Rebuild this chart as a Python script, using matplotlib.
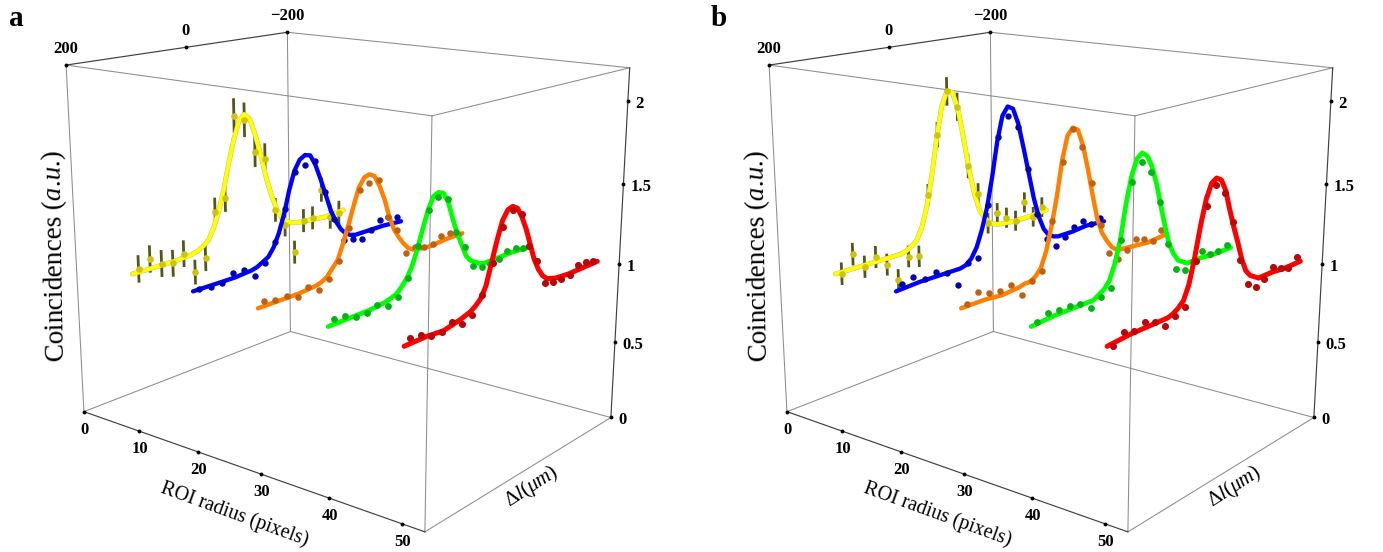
import matplotlib
matplotlib.use("Agg")
import matplotlib.pyplot as plt
import matplotlib.patheffects as pe
from mpl_toolkits.mplot3d import proj3d

plt.rcParams["font.family"] = ["Liberation Serif", "DejaVu Serif"]
plt.rcParams["mathtext.fontset"] = "custom"
plt.rcParams["mathtext.rm"] = "Liberation Serif"
plt.rcParams["mathtext.it"] = "Liberation Serif:italic"
plt.rcParams["mathtext.bf"] = "Liberation Serif:bold"

# ROI radius of each curve, delta l of the measured points and of the fit samples
radii = [10, 20, 30, 40, 50]
dl_points = [190, 171, 152, 133, 114, 95, 76, 57, 38, 19, 0, -19, -38, -57, -76, -95, -114, -133, -152, -171, -190]
dl_fit = [200, 160, 130, 100, 90, 80, 70, 60, 50, 40, 30, 20, 10, 0, -10, -20, -30, -40, -50, -60, -70, -80, -90, -100, -130, -160, -200]

# panel a, fits
a_yellow_fit = [1.00, 1.00, 1.00, 1.01, 1.02, 1.04, 1.07, 1.14, 1.24, 1.37, 1.53, 1.67, 1.78, 1.815, 1.78, 1.67, 1.53, 1.37, 1.24, 1.14, 1.07, 1.04, 1.02, 1.01, 1.00, 0.99, 1.00]
a_blue_fit = [0.99, 0.99, 0.99, 1.00, 1.01, 1.03, 1.05, 1.10, 1.18, 1.29, 1.43, 1.54, 1.60, 1.62, 1.61, 1.54, 1.44, 1.33, 1.22, 1.14, 1.08, 1.04, 1.02, 1.01, 1.01, 1.01, 1.00]
a_orange_fit = [0.99, 0.99, 0.99, 1.00, 1.01, 1.03, 1.07, 1.11, 1.20, 1.30, 1.41, 1.51, 1.56, 1.57, 1.55, 1.48, 1.39, 1.27, 1.18, 1.12, 1.07, 1.03, 1.01, 1.00, 0.99, 1.00, 1.00]
a_green_fit = [0.99, 0.99, 0.99, 1.00, 1.01, 1.02, 1.05, 1.09, 1.15, 1.24, 1.35, 1.45, 1.52, 1.535, 1.52, 1.46, 1.35, 1.25, 1.17, 1.09, 1.05, 1.03, 1.01, 1.00, 1.00, 1.00, 0.99]
a_red_fit = [0.99, 0.99, 0.98, 1.00, 1.01, 1.02, 1.04, 1.07, 1.13, 1.25, 1.37, 1.47, 1.52, 1.53, 1.51, 1.45, 1.37, 1.27, 1.17, 1.10, 1.05, 1.02, 1.01, 1.00, 0.99, 0.99, 0.99]

# panel a, measured points
a_yellow_pts = [1.02, 1.06, 1.01, 0.99, 1.03, 0.89, 0.96, 1.24, 1.31, 1.82, 1.78, 1.56, 1.50, 1.14, 1.02, 0.81, 1.01, 1.01, 1.19, 0.98, 0.99]
a_yellow_err = [0.085, 0.085, 0.085, 0.085, 0.085, 0.08, 0.085, 0.09, 0.09, 0.11, 0.11, 0.10, 0.10, 0.08, 0.08, 0.08, 0.08, 0.08, 0.085, 0.085, 0.085]
a_blue_pts = [0.99, 0.98, 0.98, 1.02, 1.02, 0.96, 1.02, 1.13, 1.32, 1.53, 1.56, 1.57, 1.35, 1.16, 1.00, 0.99, 0.97, 1.01, 1.06, 1.06, 1.04]
a_orange_pts = [1.02, 1.00, 1.00, 0.97, 1.01, 0.97, 1.01, 1.10, 1.28, 1.49, 1.52, 1.52, 1.27, 1.17, 1.00, 1.02, 1.00, 1.00, 1.03, 1.03, 1.00]
a_green_pts = [1.02, 1.01, 0.98, 0.98, 1.00, 0.97, 1.00, 1.09, 1.26, 1.45, 1.51, 1.48, 1.26, 1.15, 1.01, 0.98, 0.98, 0.99, 1.02, 1.02, 1.00]
a_red_pts = [1.02, 1.01, 0.98, 0.98, 1.01, 0.97, 1.00, 1.09, 1.25, 1.43, 1.51, 1.47, 1.26, 1.15, 1.00, 0.98, 0.98, 0.98, 1.02, 1.02, 1.00]

# panel b, fits
b_yellow_fit = [1.00, 1.00, 1.00, 1.00, 1.00, 1.01, 1.03, 1.06, 1.14, 1.27, 1.46, 1.68, 1.87, 1.96, 1.95, 1.84, 1.64, 1.42, 1.25, 1.13, 1.07, 1.03, 1.01, 1.00, 0.99, 0.99, 1.00]
b_blue_fit = [0.99, 1.00, 1.00, 1.00, 1.00, 1.01, 1.04, 1.10, 1.20, 1.33, 1.51, 1.72, 1.87, 1.92, 1.90, 1.80, 1.64, 1.47, 1.30, 1.17, 1.08, 1.03, 1.01, 1.00, 1.00, 1.01, 1.00]
b_orange_fit = [0.99, 0.99, 0.98, 0.99, 1.00, 1.00, 1.02, 1.06, 1.15, 1.29, 1.46, 1.67, 1.81, 1.85, 1.83, 1.73, 1.58, 1.41, 1.25, 1.15, 1.09, 1.04, 1.01, 1.00, 0.99, 0.98, 0.99]
b_green_fit = [0.99, 1.00, 1.00, 1.00, 1.00, 1.02, 1.04, 1.08, 1.17, 1.30, 1.50, 1.65, 1.74, 1.765, 1.74, 1.67, 1.56, 1.42, 1.28, 1.16, 1.09, 1.04, 1.02, 1.00, 1.00, 0.99, 0.99]
b_red_fit = [0.99, 1.00, 1.00, 1.00, 1.00, 1.01, 1.03, 1.06, 1.14, 1.28, 1.45, 1.59, 1.67, 1.69, 1.67, 1.60, 1.48, 1.37, 1.27, 1.16, 1.08, 1.04, 1.02, 1.00, 1.00, 0.99, 0.99]

# panel b, measured points
b_yellow_pts = [0.99, 1.09, 0.99, 1.03, 0.96, 0.84, 0.97, 0.95, 1.33, 1.70, 1.96, 1.85, 1.45, 1.25, 1.03, 1.08, 1.03, 0.99, 1.10, 0.98, 1.03]
b_yellow_err = [0.07, 0.07, 0.07, 0.07, 0.07, 0.07, 0.07, 0.07, 0.07, 0.08, 0.09, 0.09, 0.08, 0.07, 0.07, 0.07, 0.07, 0.07, 0.07, 0.07, 0.07]
b_blue_pts = [1.02, 1.04, 1.01, 1.03, 1.00, 0.90, 1.02, 1.03, 1.34, 1.75, 1.86, 1.78, 1.50, 1.19, 1.01, 0.94, 0.98, 1.03, 1.05, 1.01, 1.03]
b_orange_pts = [1.00, 1.05, 1.02, 1.01, 1.02, 0.94, 1.00, 1.04, 1.32, 1.66, 1.84, 1.72, 1.48, 1.20, 1.00, 0.94, 0.98, 1.03, 1.01, 0.98, 1.03]
b_green_pts = [1.00, 1.03, 1.02, 1.02, 1.01, 0.96, 1.00, 1.03, 1.29, 1.61, 1.71, 1.64, 1.44, 1.17, 0.99, 0.96, 0.99, 1.04, 1.00, 1.00, 1.02]
b_red_pts = [0.98, 1.03, 1.01, 1.03, 1.01, 0.96, 0.99, 1.02, 1.26, 1.55, 1.65, 1.59, 1.40, 1.16, 0.99, 0.95, 0.98, 1.03, 1.00, 0.98, 1.03]

# axis ticks
roi_ticks = [0, 10, 20, 30, 40, 50]
dl_ticks = [200, 0, -200]
dl_labels = ["200", "0", "\u2212200"]
z_ticks = [0, 0.5, 1, 1.5, 2]
z_labels = ["0", "0.5", "1", "1.5", "2"]

ROI_MAX = 52.98
DL_MAX = 200
Z_MAX = 2.194

line_colors = ["#ffff00", "#0000ff", "#ff8000", "#00ff00", "#ff0000"]
dot_colors = ["#cfc40c", "#0000b4", "#c06010", "#00b414", "#b80808"]
line_widths = [3.0, 3.1, 3.2, 3.4, 3.6]
dot_sizes = [4.8, 4.6, 4.7, 4.9, 5.1]

W, H = 1383, 552
PANEL_SHIFT = 703
AX_SIDE = 634.47


def draw_panel(x_left, fits, pts, errs, tag):
    ax = fig.add_axes([x_left / W, -20.15 / H, AX_SIDE / W, AX_SIDE / H], projection="3d", computed_zorder=False)
    ax.set_xlim(0, ROI_MAX, view_margin=0)
    ax.set_ylim(DL_MAX, -DL_MAX, view_margin=0)
    ax.set_zlim(0, Z_MAX, view_margin=0)
    ax.view_init(15.55, -51.41, -0.05)
    ax.set_proj_type("persp", focal_length=0.4197)
    ax.set_box_aspect((1.2047, 0.9095, 1.0))
    ax.set_axis_off()
    ax.patch.set_visible(False)

    # box edges, dark ones carry the ticks
    box = [((0, ROI_MAX), (-DL_MAX, -DL_MAX), (0, 0)), ((0, 0), (-DL_MAX, DL_MAX), (0, 0)),
           ((0, 0), (-DL_MAX, -DL_MAX), (0, Z_MAX)), ((0, 0), (DL_MAX, DL_MAX), (0, Z_MAX)),
           ((ROI_MAX, ROI_MAX), (DL_MAX, DL_MAX), (0, Z_MAX)), ((0, ROI_MAX), (DL_MAX, DL_MAX), (Z_MAX, Z_MAX)),
           ((ROI_MAX, ROI_MAX), (-DL_MAX, DL_MAX), (Z_MAX, Z_MAX)), ((0, ROI_MAX), (-DL_MAX, -DL_MAX), (Z_MAX, Z_MAX)),
           ((ROI_MAX, ROI_MAX), (-DL_MAX, DL_MAX), (0, 0))]
    for xs, ys, zs in box:
        ax.plot(xs, ys, zs, color="#8c8c8c", lw=0.75, zorder=1)
    dark = [((0, ROI_MAX), (DL_MAX, DL_MAX), (0, 0)), ((0, 0), (-DL_MAX, DL_MAX), (Z_MAX, Z_MAX)),
            ((ROI_MAX, ROI_MAX), (-DL_MAX, -DL_MAX), (0, Z_MAX))]
    for xs, ys, zs in dark:
        ax.plot(xs, ys, zs, color="#404040", lw=0.85, zorder=1.1)

    # curves, back to front
    for i, r in enumerate(radii):
        base = 10 + 2 * i
        if i == 0:
            for d, z, e in zip(dl_points, pts[i], errs):
                ax.plot([r, r], [d, d], [z - e, z + e], color="#55551a", lw=2.0, zorder=base - 0.5,
                        solid_capstyle="butt")
        line, = ax.plot([r] * len(dl_fit), dl_fit, fits[i], color=line_colors[i], lw=line_widths[i], zorder=base,
                        solid_capstyle="round", solid_joinstyle="round")
        if i == 0:
            line.set_path_effects([pe.withStroke(linewidth=line_widths[i] + 0.5, foreground="#b0b0a0")])
        ax.plot([r] * len(dl_points), dl_points, pts[i], ls="none", marker="o", ms=dot_sizes[i], mfc=dot_colors[i],
                mec="none", zorder=base + 0.5)

    # tick dots and labels
    M = ax.get_proj()

    def tick(x, y, z, text, dx, dy, ha):
        u, v, _ = proj3d.proj_transform(x, y, z, M)
        ax.plot([x], [y], [z], ls="none", marker="o", ms=2.8, color="black", mec="none", zorder=2)
        ax.annotate(text, xy=(u, v), xytext=(dx, dy), textcoords="offset pixels", ha=ha, va="center",
                    fontsize=12, fontweight="bold", annotation_clip=False)

    for t in roi_ticks:
        tick(t, DL_MAX, 0, str(t), 1, -18, "center")
    for t, lab in zip(dl_ticks, dl_labels):
        tick(0, t, Z_MAX, lab, 0, 16, "center")
    for t, lab in zip(z_ticks, z_labels):
        tick(ROI_MAX, -DL_MAX, t, lab, 7, -3, "left")

    x0 = x_left - 20.49
    fig.text((x0 + 16) / W, 1 - 19 / H, tag, fontsize=21, fontweight="bold", ha="center", va="center")
    fig.text((x0 + 55) / W, 1 - 256 / H, "Coincidences ($a$.$u$.)", fontsize=19.5, rotation=91, ha="center", va="center")
    fig.text((x0 + 235) / W, 1 - 514 / H, "ROI radius (pixels)", fontsize=14.5, rotation=-20,
             ha="center", va="center", rotation_mode="anchor")
    fig.text((x0 + 532) / W, 1 - 487 / H, r"$\Delta l(\mu m)$", fontsize=15, rotation=33,
             ha="center", va="center", rotation_mode="anchor")


fig = plt.figure(figsize=(W / 100, H / 100), dpi=100)
draw_panel(20.49, [a_yellow_fit, a_blue_fit, a_orange_fit, a_green_fit, a_red_fit],
           [a_yellow_pts, a_blue_pts, a_orange_pts, a_green_pts, a_red_pts], a_yellow_err, "a")
draw_panel(20.49 + PANEL_SHIFT, [b_yellow_fit, b_blue_fit, b_orange_fit, b_green_fit, b_red_fit],
           [b_yellow_pts, b_blue_pts, b_orange_pts, b_green_pts, b_red_pts], b_yellow_err, "b")
fig.savefig("out.png", dpi=100)
